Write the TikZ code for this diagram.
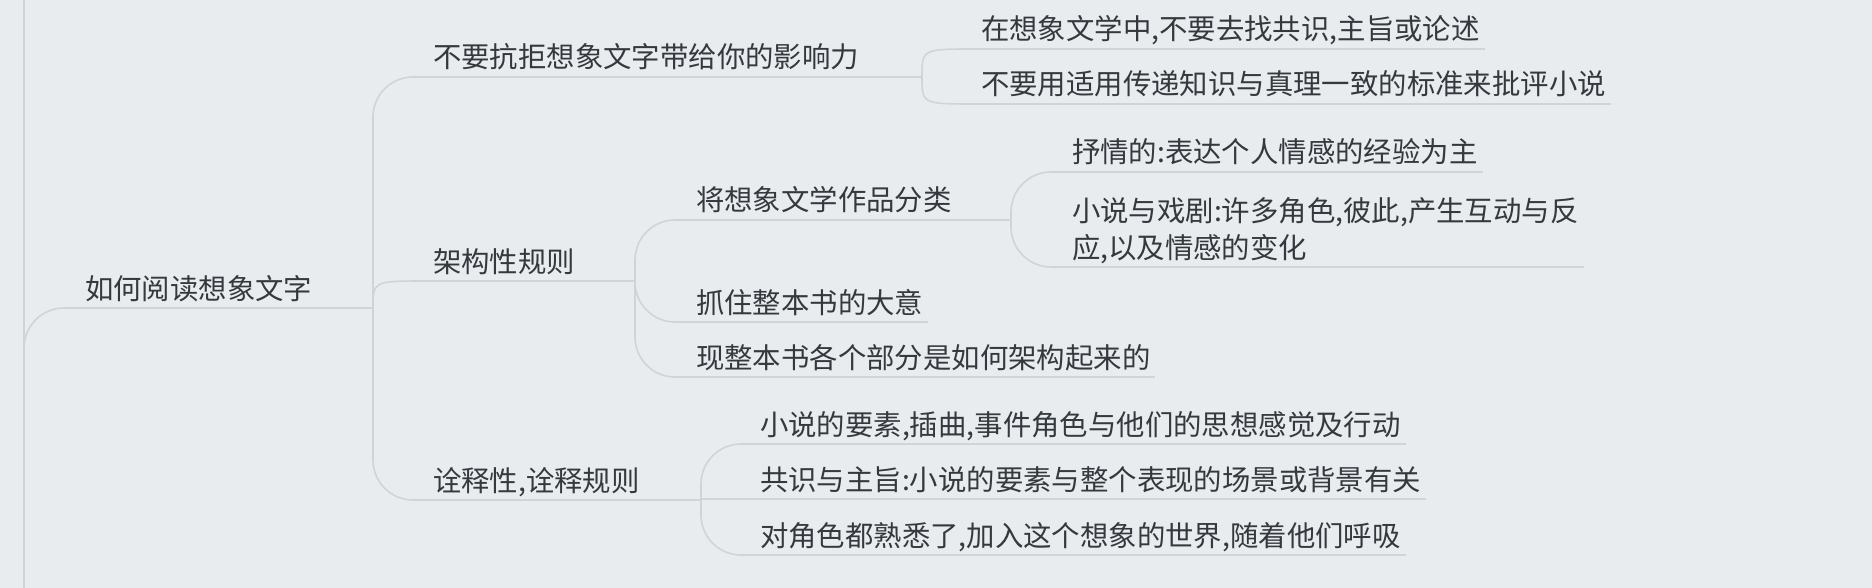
\documentclass[tikz,border=0pt]{standalone}
\usepackage{fontspec}
\newfontfamily\cjk{Noto Sans CJK SC}
\definecolor{bgc}{RGB}{233,236,239}
\definecolor{linec}{RGB}{208,212,216}
\definecolor{txtc}{RGB}{52,57,62}
\begin{document}
\begin{tikzpicture}[x=0.5pt, y=-0.5pt,
  conn/.style={draw=linec, line width=0.8pt},
  topic/.style={anchor=south west, text=txtc,
    font=\cjk\fontsize{14.2pt}{18.5pt}\selectfont,
    inner xsep=2.5pt, inner ysep=4.5pt, text depth=0pt, outer sep=0pt}]
\fill[bgc] (0,0) rectangle (1872,588);
\useasboundingbox (0,0) rectangle (1872,588);

% left parent line
\coordinate (lefttop) at (24,0);
\coordinate (leftbot) at (24,588);
\draw[conn] (lefttop) -- (leftbot);

% nodes
\node[topic] (root) at (80,308) {如何阅读想象文字};
\coordinate (j1) at (373,308);

\node[topic] (a) at (428,77) {不要抗拒想象文字带给你的影响力};
\node[topic] (b) at (428,281) {架构性规则};
\node[topic] (c) at (428,500) {诠释性,诠释规则};
\coordinate (ja) at (922,77);
\coordinate (jb) at (635,281);
\coordinate (jc) at (701,500);

\node[topic] (a1) at (976,49) {在想象文学中,不要去找共识,主旨或论述};
\node[topic] (a2) at (976,104) {不要用适用传递知识与真理一致的标准来批评小说};

\node[topic] (b1) at (691,220) {将想象文学作品分类};
\node[topic] (b2) at (691,322) {抓住整本书的大意};
\node[topic] (b3) at (691,377) {现整本书各个部分是如何架构起来的};
\coordinate (jb1) at (1011,220);

\node[topic] (b11) at (1067,172) {抒情的:表达个人情感的经验为主};
\node[topic] (b12) at (1067,267) {\begin{tabular}[b]{@{}l@{}}小说与戏剧:许多角色,彼此,产生互动与反\\应,以及情感的变化\end{tabular}};

\node[topic] (c1) at (755,444) {小说的要素,插曲,事件角色与他们的思想感觉及行动};
\node[topic] (c2) at (755,499) {共识与主旨:小说的要素与整个表现的场景或背景有关};
\node[topic] (c3) at (755,555) {对角色都熟悉了,加入这个想象的世界,随着他们呼吸};

% underlines
\draw[conn] (root.south west) -- (j1);
\draw[conn] (a.south west) -- (ja);
\draw[conn] (b.south west) -- (jb);
\draw[conn] (c.south west) -- (jc);
\draw[conn] (b1.south west) -- (jb1);
\foreach \n in {a1,a2,b2,b3,b11,b12,c1,c2,c3}
  \draw[conn] (\n.south west) -- (\n.south east);

% connectors
\draw[conn, rounded corners=20pt] (leftbot) |- (root.south west);
\draw[conn, rounded corners=20pt] (j1) |- (a.south west);
\draw[conn] (j1) .. controls (j1 |- b.south west) .. (b.south west);
\draw[conn, rounded corners=20pt] (j1) |- (c.south west);
\draw[conn] (ja) .. controls (ja |- a1.south west) .. (a1.south west);
\draw[conn] (ja) .. controls (ja |- a2.south west) .. (a2.south west);
\draw[conn, rounded corners=20pt] (jb) |- (b1.south west);
\draw[conn, rounded corners=20pt] (jb) |- (b2.south west);
\draw[conn, rounded corners=20pt] (jb) |- (b3.south west);
\draw[conn, rounded corners=20pt] (jb1) |- (b11.south west);
\draw[conn, rounded corners=20pt] (jb1) |- (b12.south west);
\draw[conn, rounded corners=20pt] (jc) |- (c1.south west);
\draw[conn] (jc) |- (c2.south west);
\draw[conn, rounded corners=20pt] (jc) |- (c3.south west);
\end{tikzpicture}
\end{document}
